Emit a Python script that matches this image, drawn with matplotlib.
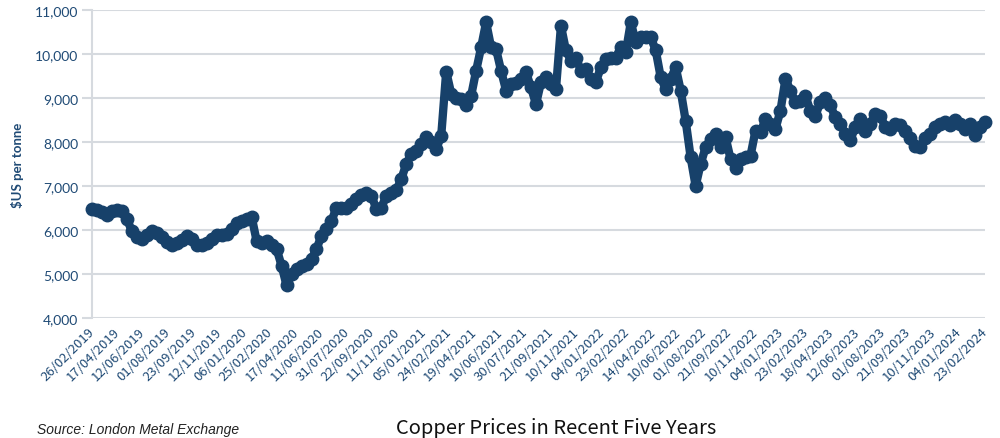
import matplotlib
matplotlib.use("Agg")
import matplotlib.pyplot as plt
import matplotlib.transforms as mtransforms
from matplotlib.ticker import FuncFormatter
import numpy as np

# LME copper price, $US per tonne (roughly every 5 px)
prices = [
    6480, 6450, 6410, 6330, 6430, 6450, 6430, 6240, 5980, 5850,
    5800, 5880, 5980, 5940, 5850, 5730, 5670, 5710, 5770, 5860,
    5800, 5670, 5650, 5710, 5800, 5880, 5880, 5920, 6030, 6170,
    6200, 6250, 6300, 5750, 5710, 5750, 5670, 5570, 5190, 4740,
    5000, 5110, 5190, 5230, 5340, 5570, 5870, 6020, 6200, 6510,
    6490, 6510, 6590, 6700, 6800, 6840, 6780, 6480, 6510, 6780,
    6840, 6900, 7160, 7500, 7730, 7800, 7950, 8110, 7990, 7840,
    8140, 9600, 9100, 9010, 8980, 8830, 9050, 9620, 10150, 10720,
    10150, 10110, 9620, 9170, 9320, 9330, 9430, 9580, 9240, 8860,
    9360, 9470, 9320, 9200, 10640, 10080, 9850, 9920, 9620, 9660,
    9430, 9360, 9700, 9890, 9920, 9920, 10150, 10040, 10720, 10270,
    10380, 10380, 10380, 10080, 9470, 9200, 9430, 9700, 9170, 8480,
    7650, 7000, 7500, 7880, 8070, 8180, 7880, 8110, 7610, 7420,
    7610, 7650, 7690, 8260, 8220, 8520, 8410, 8300, 8710, 9430,
    9170, 8900, 8940, 9050, 8710, 8600, 8900, 9010, 8830, 8560,
    8410, 8190, 8040, 8340, 8530, 8260, 8410, 8640, 8600, 8340,
    8300, 8410, 8380, 8260, 8080, 7920, 7890, 8080, 8190, 8340,
    8410, 8450, 8380, 8490, 8410, 8300, 8410, 8150, 8340, 8450,
]

date_labels = [
    "26/02/2019", "17/04/2019", "12/06/2019", "01/08/2019", "23/09/2019", "12/11/2019",
    "06/01/2020", "25/02/2020", "17/04/2020", "11/06/2020", "31/07/2020", "22/09/2020",
    "11/11/2020", "05/01/2021", "24/02/2021", "19/04/2021", "10/06/2021", "30/07/2021",
    "21/09/2021", "10/11/2021", "04/01/2022", "23/02/2022", "14/04/2022", "10/06/2022",
    "01/08/2022", "21/09/2022", "10/11/2022", "04/01/2023", "23/02/2023", "18/04/2023",
    "12/06/2023", "01/08/2023", "21/09/2023", "10/11/2023", "04/01/2024", "23/02/2024",
]

navy = "#17416a"
grid_c = "#d6dadf"
txt_c = "#1f4a75"

fig = plt.figure(figsize=(10, 4.39), dpi=100)
ax = fig.add_axes([0.092, 0.2733, 0.893, 0.7017])

x = np.arange(len(prices))
ax.plot(x, prices, color=navy, lw=6, marker="o", ms=9, mec=navy, mfc=navy,
        solid_joinstyle="round", clip_on=False, zorder=3)

ax.set_xlim(0, len(prices) - 1)
ax.set_ylim(4000, 11000)
ax.set_yticks(range(4000, 11001, 1000))
ax.yaxis.set_major_formatter(FuncFormatter(lambda v, p: f"{int(v):,}"))
ax.grid(axis="y", color=grid_c, lw=1.5)
ax.set_axisbelow(True)

tick_pos = np.linspace(0, len(prices) - 1, len(date_labels))
ax.set_xticks(tick_pos)
ax.set_xticklabels(date_labels, rotation=45, ha="right", va="center",
                   rotation_mode="anchor", fontsize=9.5, color=txt_c,
                   family="Noto Sans CJK SC")
offset = mtransforms.ScaledTranslation(6 / 100, 0, fig.dpi_scale_trans)
for lab in ax.get_xticklabels():
    lab.set_transform(lab.get_transform() + offset)
ax.tick_params(axis="x", length=0, pad=8)
ax.tick_params(axis="y", length=7, width=1.5, color=grid_c, labelcolor=txt_c,
               labelsize=10, pad=3)
for lab in ax.get_yticklabels():
    lab.set_family("Lato")

for s in ["top", "right", "bottom"]:
    ax.spines[s].set_visible(False)
ax.spines["left"].set_color(grid_c)
ax.spines["left"].set_linewidth(1.5)

ax.set_ylabel("$US per tonne", fontsize=9.5, fontweight="bold", color=txt_c,
              family="Lato", labelpad=8)

fig.text(0.037, 0.012, "Source: London Metal Exchange", fontsize=10,
         style="italic", color="#222222", family="Liberation Sans")
fig.text(0.556, 0.012, "Copper Prices in Recent Five Years", fontsize=14.5,
         color="#111111", ha="center", family="Noto Sans CJK SC")

fig.savefig("out.png", dpi=100)
